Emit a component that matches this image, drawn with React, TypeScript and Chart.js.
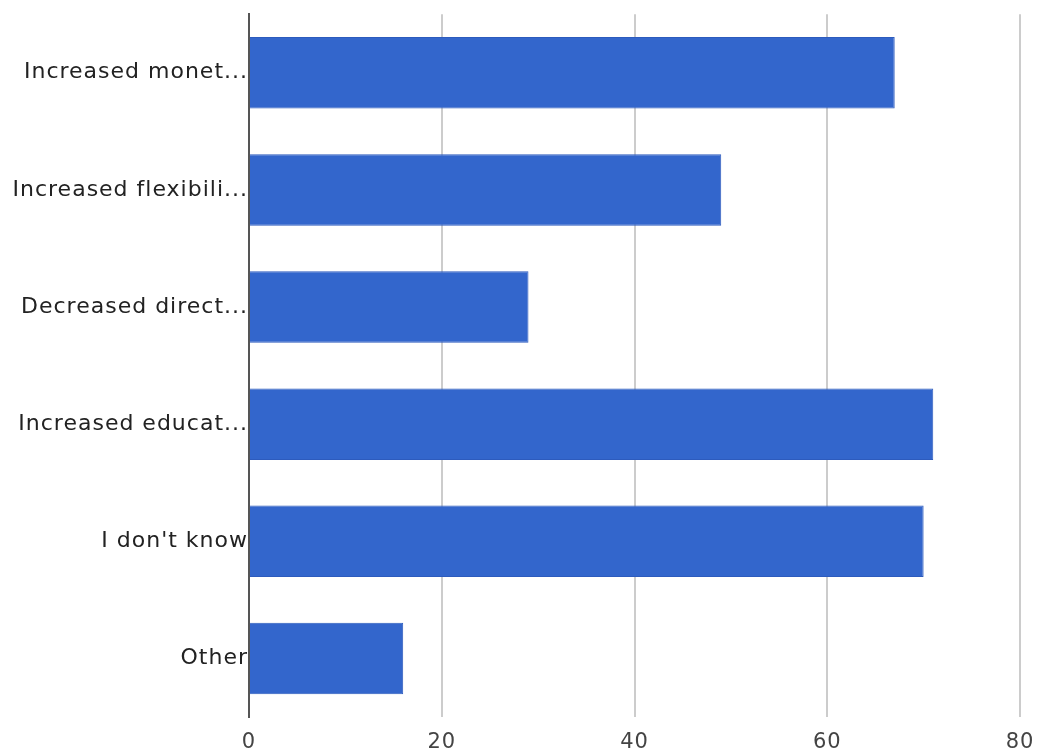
import React, { useEffect, useRef } from "react";
import { Chart, registerables } from "chart.js";

Chart.register(...registerables);

const categories = [
  "Increased monet...",
  "Increased flexibili...",
  "Decreased direct...",
  "Increased educat...",
  "I don't know",
  "Other",
];
const responses = [67, 49, 29, 71, 70, 16];
const xTicks = [0, 20, 40, 60, 80];

const FONT = "'DejaVu Sans', 'Liberation Sans', Arial, sans-serif";
const SPACING = "1px";

// Slightly wider lettering; re-applied because a canvas resize resets context state
const letterSpacingPlugin = {
  id: "letterSpacing",
  beforeUpdate(chart: any) {
    chart.ctx.letterSpacing = SPACING;
  },
  beforeLayout(chart: any) {
    chart.ctx.letterSpacing = SPACING;
  },
  beforeDraw(chart: any) {
    chart.ctx.letterSpacing = SPACING;
  },
};

export default function App() {
  const canvasRef = useRef<HTMLCanvasElement | null>(null);

  useEffect(() => {
    if (!canvasRef.current) return;
    const chart = new Chart(canvasRef.current, {
      type: "bar",
      data: {
        labels: categories,
        datasets: [
          {
            data: responses,
            backgroundColor: "#3366CC",
            borderColor: "#2d5bbd",
            borderWidth: 1,
            barPercentage: 0.61,
            categoryPercentage: 1,
          },
        ],
      },
      options: {
        indexAxis: "y",
        animation: false,
        responsive: true,
        maintainAspectRatio: false,
        layout: { padding: { top: 12, right: 18, left: 0, bottom: 0 } },
        plugins: {
          legend: { display: false },
          tooltip: { enabled: false },
        },
        scales: {
          x: {
            min: 0,
            max: 80,
            afterBuildTicks(scale: any) {
              scale.ticks = xTicks.map((v) => ({ value: v }));
            },
            afterFit(scale: any) {
              scale.height = 38;
              scale.paddingLeft = 0;
              scale.paddingRight = 0;
            },
            grid: {
              color: "#cccccc",
              lineWidth: 2,
              drawTicks: false,
            },
            border: { display: false },
            ticks: {
              color: "#444444",
              padding: 13,
              font: { family: FONT, size: 21 },
            },
          },
          y: {
            afterFit(scale: any) {
              scale.width = 249;
            },
            grid: { display: false, drawTicks: false },
            border: { display: true, color: "#555555", width: 2 },
            ticks: {
              color: "#222222",
              padding: 1,
              font: { family: FONT, size: 22 },
            },
          },
        },
      },
      plugins: [letterSpacingPlugin],
    });
    return () => chart.destroy();
  }, []);

  return (
    <div
      style={{
        position: "fixed",
        left: 0,
        top: 0,
        width: 1038,
        height: 755,
        background: "#ffffff",
      }}
    >
      <canvas ref={canvasRef} />
    </div>
  );
}
